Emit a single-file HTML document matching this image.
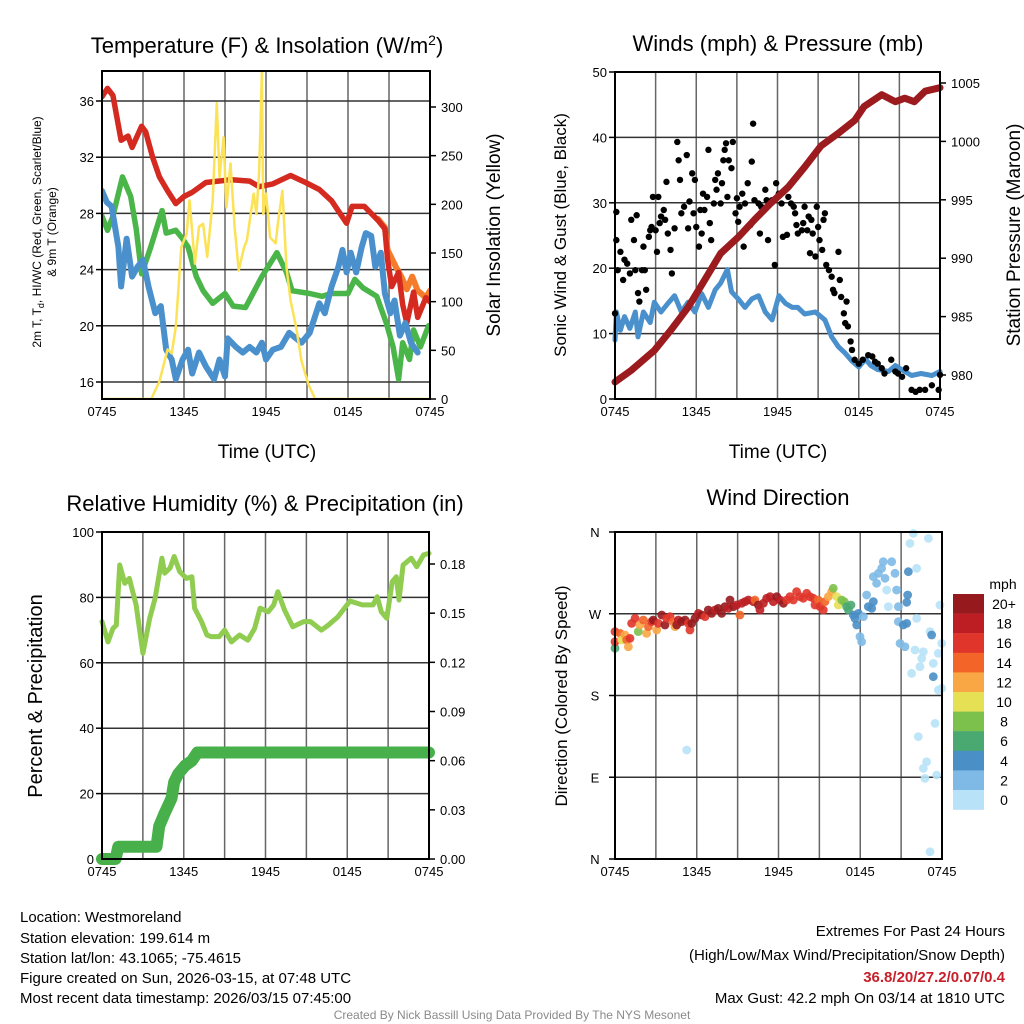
<!DOCTYPE html>
<html><head><meta charset="utf-8"><style>
html,body{margin:0;padding:0;background:#fff}
svg{display:block;font-family:"Liberation Sans",sans-serif}
</style></head><body>
<svg id="fig" width="1024" height="1024" viewBox="0 0 1024 1024">
<defs>
<clipPath id="clip1"><rect x="102" y="71" width="328" height="328"/></clipPath>
<clipPath id="clip2"><rect x="615" y="72" width="325" height="327"/></clipPath>
</defs>
<g id="p1"></g>
<g id="p2"></g>
<g id="p3"></g>
<g id="p4"></g>
<g id="txt">
<text x="267" y="53" font-size="22" text-anchor="middle">Temperature (F) &amp; Insolation (W/m<tspan dy="-8" font-size="14">2</tspan><tspan dy="8">)</tspan></text>
<text x="778" y="51" font-size="22" text-anchor="middle">Winds (mph) &amp; Pressure (mb)</text>
<text x="265" y="511" font-size="22" text-anchor="middle">Relative Humidity (%) &amp; Precipitation (in)</text>
<text x="778" y="505" font-size="22" text-anchor="middle">Wind Direction</text>
<text transform="translate(41,232) rotate(-90)" font-size="12" text-anchor="middle">2m T, T<tspan dy="3" font-size="9">d</tspan><tspan dy="-3">, HI/WC (Red, Green, Scarlet/Blue)</tspan></text>
<text transform="translate(56,232) rotate(-90)" font-size="12" text-anchor="middle">&amp; 9m T (Orange)</text>
<text transform="translate(500,235) rotate(-90)" font-size="19" text-anchor="middle">Solar Insolation (Yellow)</text>
<text transform="translate(566,235) rotate(-90)" font-size="17" text-anchor="middle">Sonic Wind &amp; Gust (Blue, Black)</text>
<text transform="translate(1020,235) rotate(-90)" font-size="19" text-anchor="middle">Station Pressure (Maroon)</text>
<text transform="translate(42,696) rotate(-90)" font-size="20" text-anchor="middle">Percent &amp; Precipitation</text>
<text transform="translate(567,696) rotate(-90)" font-size="17" text-anchor="middle">Direction (Colored By Speed)</text>
<text x="267" y="458" font-size="19" text-anchor="middle">Time (UTC)</text>
<text x="778" y="458" font-size="19" text-anchor="middle">Time (UTC)</text>
<g font-size="15">
<text x="20" y="922">Location: Westmoreland</text>
<text x="20" y="943">Station elevation: 199.614 m</text>
<text x="20" y="963">Station lat/lon: 43.1065; -75.4615</text>
<text x="20" y="983">Figure created on Sun, 2026-03-15, at 07:48 UTC</text>
<text x="20" y="1003">Most recent data timestamp: 2026/03/15 07:45:00</text>
</g>
<g font-size="15" text-anchor="end">
<text x="1005" y="936">Extremes For Past 24 Hours</text>
<text x="1005" y="960">(High/Low/Max Wind/Precipitation/Snow Depth)</text>
<text x="1005" y="982" fill="#c8202a" font-weight="bold">36.8/20/27.2/0.07/0.4</text>
<text x="1005" y="1003">Max Gust: 42.2 mph On 03/14 at 1810 UTC</text>
</g>
<text x="512" y="1019" font-size="12" fill="#8a8a8a" text-anchor="middle">Created By Nick Bassill Using Data Provided By The NYS Mesonet</text>
</g>
</svg>
<script>
// ---------- data ----------
const timeTickLabels = ["0745","1345","1945","0145","0745"];
const tempTickLabels = ["16","20","24","28","32","36"];
const solarTickLabels = ["0","50","100","150","200","250","300"];
const windTickLabels = ["0","10","20","30","40","50"];
const presTickLabels = ["980","985","990","995","1000","1005"];
const rhTickLabels = ["0","20","40","60","80","100"];
const precipTickLabels = ["0.00","0.03","0.06","0.09","0.12","0.15","0.18"];
const dirTickLabels = ["N","E","S","W","N"];
const speedLegendLabels = ["20+","18","16","14","12","10","8","6","4","2","0"];

const redT = [0,0.4,0.8,1.4,1.9,2.2,2.9,3.2,3.7,4.2,4.8,5.4,6.0,6.6,7.6,8.5,9.5,10.8,11.5,12.5,13.8,14.9,15.9,16.8,17.9,18.3,19.2,20.2,20.7,20.9,21.2,21.7,22.0,22.3,22.8,23.1,23.7,24];
const redV = [36.3,36.9,36.4,33.2,33.5,32.7,34.2,33.8,32.0,30.6,29.6,28.7,29.2,29.5,30.2,30.3,30.4,30.3,29.9,30.1,30.7,30.2,29.7,28.9,27.3,28.5,28.5,27.5,26.9,24.7,22.8,23.8,21.5,20.2,22.4,20.6,22.0,21.7];
const orangeT = [20.2,20.7,20.9,21.2,21.5,21.9,22.3,22.7,23.1,23.7,24];
const orangeV = [27.6,27.0,25.4,24.8,24.2,23.5,22.6,23.5,22.5,22.0,22.5];
const greenT = [0,0.4,0.8,1.5,2.1,2.5,2.9,3.5,4.4,4.7,5.4,5.9,6.3,6.9,7.4,8.1,9.0,9.6,10.5,11.7,12.8,13.5,13.9,15.2,16.1,16.8,18.0,18.5,19.1,20.1,20.8,21.3,21.7,22.0,22.5,22.8,23.3,23.9];
const greenV = [27.8,26.8,27.8,30.6,29.2,26.9,23.7,25.4,28.2,26.6,26.8,26.2,25.6,23.5,22.5,21.6,22.3,21.4,21.3,23.5,25.2,23.8,22.5,22.3,22.1,22.3,22.3,23.3,22.7,22.1,20.2,18.5,16.2,18.8,17.6,19.7,18.5,20.0];
const blueT = [0,0.35,0.7,1.2,1.4,1.8,2.2,2.6,3.0,3.4,3.9,4.3,4.7,5.1,5.4,5.9,6.3,6.6,7.1,7.6,8.2,8.6,9.0,9.2,9.8,10.3,10.8,11.3,11.7,12.0,12.5,13.1,13.7,14.2,14.6,15.2,15.9,16.3,16.8,17.3,17.6,17.9,18.2,18.6,19.0,19.3,19.7,20.0,20.4,20.7,21.1,21.4,21.8,22.2,22.6,23.1];
const blueV = [29.6,28.8,28.5,25.6,22.8,26.2,23.5,24.2,24.7,22.8,20.9,21.4,18.3,17.6,16.2,17.6,18.3,16.6,18.1,17.1,16.2,17.6,16.4,19.1,18.5,18.1,18.5,18.1,18.8,17.6,18.3,18.5,19.5,19.1,18.8,19.5,21.6,20.9,22.8,24.2,25.4,23.8,25.2,23.8,25.6,26.6,26.4,24.2,25.2,22.3,20.9,21.8,19.3,20.2,18.8,18.1];
const solarT = [0,3.6,4.2,4.8,5.1,5.4,5.8,6.2,6.4,6.8,7.1,7.4,7.7,8.1,8.4,8.6,8.9,9.1,9.4,9.7,10.0,10.4,10.6,11.1,11.3,11.5,11.7,11.8,12.0,12.3,12.7,12.9,13.2,13.5,13.8,14.2,14.6,15.1,15.6,24];
const solarV = [0,0,18,51,47,74,156,170,204,139,177,180,146,204,304,228,269,197,242,177,132,156,163,211,190,235,336,190,211,166,160,184,214,135,101,74,39,15,0,0];

const presT = [0,1.2,2.9,4.1,5.4,6.6,7.8,9.1,10.3,11.5,12.8,14.0,15.2,16.5,17.7,18.4,19.7,20.7,21.4,22.1,22.9,24];
const presV = [979.4,980.4,982.1,983.8,985.8,988.1,990.4,991.8,993.3,994.7,996.1,997.8,999.6,1000.7,1001.8,1003.0,1004.0,1003.4,1003.7,1003.4,1004.3,1004.6];
const windT = [0,0.1,0.4,0.7,1.1,1.5,1.7,2.1,2.6,2.9,3.4,3.9,4.4,4.9,5.4,5.9,6.4,6.9,7.4,7.8,8.3,8.6,9.1,9.6,10.1,10.6,11.1,11.6,12.1,12.6,13.1,13.5,14.0,14.8,15.5,16.0,16.5,17.0,17.5,18.0,18.5,18.9,19.4,20.2,20.7,21.4,21.9,22.6,23.4,24];
const windV = [9.0,13.3,10.5,12.6,10.8,13.3,9.5,13.3,11.7,14.8,13.3,14.6,15.8,13.3,14.8,13.3,16.1,14.0,16.7,17.7,19.8,16.4,15.3,14.0,15.3,15.8,13.3,12.1,15.8,14.6,14.0,14.0,13.0,13.3,12.1,9.5,8.0,7.0,5.8,4.9,6.1,5.1,4.5,4.2,5.1,4.2,3.6,3.9,3.6,4.2];
const gustT = [0,0.1,0.1,0.4,0.2,0.6,0.7,0.9,1.1,1.2,1.4,1.5,1.6,1.7,1.8,2.0,2.1,2.2,2.3,2.5,2.6,2.7,2.8,3.0,3.1,3.2,3.3,3.4,3.6,3.7,3.8,3.9,4.1,4.2,4.4,4.6,4.7,4.8,4.9,5.1,5.3,5.4,5.5,5.7,5.8,5.9,6.0,6.2,6.3,6.4,6.5,6.6,6.8,6.9,7.0,7.1,7.3,7.4,7.5,7.6,7.8,7.9,8.0,8.1,8.2,8.3,8.4,8.6,8.7,8.9,9.0,9.1,9.2,9.4,9.5,9.6,9.8,10.0,10.1,10.2,10.3,10.6,10.7,10.8,11.1,11.2,11.3,11.6,11.8,11.9,12.1,12.3,12.4,12.7,12.8,13.0,13.2,13.3,13.4,13.5,13.8,13.9,14.0,14.2,14.3,14.4,14.5,14.6,14.8,14.9,15.0,15.1,15.3,15.4,15.5,15.6,15.8,16.0,16.1,16.2,16.5,16.6,16.7,16.9,17.0,17.1,17.2,17.4,17.5,17.7,18.0,18.3,18.7,19.0,19.2,19.4,19.7,19.9,20.4,20.7,20.9,21.2,21.5,21.9,22.2,22.5,22.9,23.4,23.9,24.0];
const gustV = [13.1,24.3,28.6,22.5,19.7,18.2,21.3,20.7,19.2,27.4,24.3,19.7,28.1,16.2,14.9,19.7,23.3,19.7,16.7,24.8,25.8,26.3,30.9,25.8,22.5,30.9,26.9,27.9,28.9,27.4,33.2,25.3,22.8,19.2,26.1,39.3,36.5,33.5,28.4,29.4,37.3,26.1,30.2,34.5,28.4,33.5,26.3,23.3,28.9,25.3,31.4,28.9,30.9,38.1,26.9,24.3,29.9,33.5,32.0,34.5,29.9,33.0,36.5,38.1,39.1,30.9,36.5,35.3,39.3,28.4,30.7,27.1,29.4,31.4,23.3,29.9,33.0,26.6,36.3,42.1,30.4,29.9,25.3,29.4,32.0,30.4,24.3,30.4,20.5,33.0,31.4,29.9,24.8,25.1,30.9,29.9,29.4,28.4,26.6,25.3,25.8,26.9,29.4,25.8,27.9,22.3,27.4,25.3,21.8,29.4,26.3,24.3,22.8,27.4,28.4,20.5,19.7,18.7,16.7,16.2,22.5,18.2,15.6,13.1,11.6,14.9,11.1,8.8,7.5,6.0,5.4,6.0,6.7,6.5,5.7,5.4,4.7,3.9,6.0,4.2,3.9,3.4,4.7,1.4,1.1,1.4,1.4,2.1,1.4,3.7];

const rhT = [0,0.44,0.8,1.05,1.3,1.67,2.0,2.5,3.0,3.5,3.9,4.4,4.6,5.0,5.3,5.7,6.2,6.6,6.8,7.3,7.7,8.0,8.6,9.0,9.5,10.1,10.7,11.2,11.6,12.2,12.6,12.9,13.4,14.0,14.8,15.3,16.1,16.6,17.3,18.2,19.1,19.9,20.2,20.5,20.9,21.3,21.6,21.8,22.1,22.7,23.1,23.6,24.0];
const rhV = [72.6,66.4,70.5,71.5,89.9,84.3,85.8,77.7,62.9,73.6,79.7,92.0,87.4,89.0,92.5,87.9,85.8,86.3,76.7,72.6,68.5,68.0,68.0,70.0,66.4,68.5,66.9,70.5,76.7,75.6,77.7,81.7,76.1,71.0,72.6,72.6,70.0,71.5,74.0,78.9,77.7,77.7,80.2,75.6,73.6,84.8,86.3,79.2,89.9,92.0,89.4,93.0,93.5];
const precipT = [0,0.5,1.0,1.2,2.0,3.0,4.0,4.2,4.6,5.1,5.3,5.6,6.1,6.6,7.0,10,15,20,24];
const precipV = [0,0,0,0.0075,0.0075,0.0075,0.0075,0.02,0.028,0.037,0.047,0.052,0.057,0.06,0.065,0.065,0.065,0.065,0.065];

const dirT = [0,0,0,0.37,0.49,0.73,0.86,0.98,1.1,1.22,1.47,1.71,1.83,2.08,2.32,2.45,2.69,2.81,3.06,3.18,3.43,3.67,3.79,4.04,4.28,4.4,4.53,4.65,4.89,5.14,5.38,5.5,5.63,5.87,6.12,6.36,6.61,6.85,7.1,7.34,7.58,7.83,8.07,8.32,8.44,8.69,8.93,9.17,9.3,9.54,9.79,10.15,10.27,10.52,10.64,10.89,11.13,11.38,11.62,11.87,12.11,12.36,12.6,12.84,13.09,13.33,13.58,13.82,14.07,14.31,14.56,14.68,14.92,15.05,15.29,15.41,15.66,15.9,16.02,16.27,16.39,16.64,16.83,17.0,17.13,17.32,17.49,17.61,17.74,17.86,17.98,18.1,18.23,18.47,18.59,18.84,18.96,18.96,19.2,19.33,19.57,19.69,19.82,19.94,20.06,20.31,20.55,20.67,20.8,20.8,20.92,21.16,21.28,21.41,21.48,21.41,21.53,21.65,21.77,21.9,22.02,22.14,22.14,22.26,22.38,22.51,22.63,22.63,22.75,22.87,23.0,23.12,23.12,23.24,23.36,23.36,23.49,23.61,23.73,23.73,23.85,23.98,23.98,5.26];
const dirV = [232,239.2,250.3,248.4,241.1,246.6,241.1,233.7,242.9,259.4,264.9,250.3,257.6,263.1,248.4,255.8,261.3,263.1,252.1,259.4,268.6,257.6,264.9,266.8,261.3,255.8,257.6,263.1,261.3,263.1,259.4,252.1,259.4,264.9,270.4,268.6,266.8,274.1,270.4,274.1,275.9,270.4,277.8,275.9,285.1,277.8,279.6,268.6,281.5,283.3,285.1,283.3,285.1,279.6,274.1,281.5,287,288.8,283.3,288.8,285.1,281.5,285.1,288.8,285.1,294.3,288.8,287,292.5,288.8,287,279.6,285.1,277.8,274.1,283.3,288.8,294.3,298,288.8,279.6,285.1,283.3,277.8,274.1,279.6,268.6,264.9,257.6,270.4,244.8,239.2,266.8,290.6,277.8,275.9,283.3,310.8,303.5,314.5,320,327.3,309,296.1,277.8,327.3,314.5,296.1,277.8,261.3,237.4,257.6,233.7,259.4,290.6,282.6,316.3,347.5,204.4,358.5,230.1,320,264.9,134.7,211.7,220.9,228.2,99.8,88.8,107.1,353,250.3,8,246.6,215.4,200.7,149.3,92.4,226.4,186,279.6,237.4,187.9,120];
const dirS = [7,17,17,14,11,13,14,12,17,17,17,8,12,14,12,14,17,20,12,17,20,20,17,16,14,12,20,18,20,20,17,17,20,20,18,20,17,20,20,18,20,20,20,18,20,20,18,14,18,18,18,18,14,20,18,18,18,18,18,20,18,20,16,17,16,16,16,16,16,16,16,17,14,16,16,14,13,12,8,10,10,8,8,7,6,6,4,5,4,5,3,3,3,3,4,4,5,3,3,3,3,3,3,1,1,3,3,3,3,3,3,4,3,4,5,5,4,1,1,1,1,1,1,1,1,1,1,1,1,1,1,1,1,4,1,4,1,1,1,1,1,1,1,1,10];
const speedColors = ["#961a1d","#bd1e24","#e0352a","#f26428","#f9a644","#e6e055","#7cc14c","#4aa871","#4a8fc6","#7ebae5","#b8e2f8"];

// ---------- helpers ----------
const NS = "http://www.w3.org/2000/svg";
function mk(parent, tag, attrs){ const e=document.createElementNS(NS,tag); for(const k in attrs) e.setAttribute(k,attrs[k]); parent.appendChild(e); return e; }
function scale(d0,d1,r0,r1){ return v => r0 + (v-d0)/(d1-d0)*(r1-r0); }

function frame(g, L, T, R, B){
  const xs = scale(0,24,L,R);
  for(let h=3; h<24; h+=3){
    const ln = mk(g,"line",{x1:xs(h),x2:xs(h),y1:T,y2:B,stroke:"#666","stroke-width":1.5});
    
    
  }
  timeTickLabels.forEach((lab,i)=>{
    const t = mk(g,"text",{x:xs(i*6),y:B+17,"font-size":13,"text-anchor":"middle"});
    t.textContent = lab;
    
    
  });
  return xs;
}
function hgrid(g,L,R,ys,vals){
  vals.forEach(v=>{
    const ln = mk(g,"line",{x1:L,x2:R,y1:ys(v),y2:ys(v),stroke:"#333","stroke-width":1.5});
    
    
  });
}
function border(g,L,T,R,B){
  const r = mk(g,"rect",{x:L,y:T,width:R-L,height:B-T,fill:"none",stroke:"#000","stroke-width":2});
  
  
}
function yLabels(g,x,anchor,ys,labels,vals,ticksX,dir){
  labels.forEach((lab,i)=>{
    const t = mk(g,"text",{x:x,y:ys(vals[i])+5,"font-size":13,"text-anchor":anchor});
    t.textContent = lab;
    
    
    const tk = mk(g,"line",{x1:ticksX,x2:ticksX+dir*6,y1:ys(vals[i]),y2:ys(vals[i]),stroke:"#000","stroke-width":1.5});
    
    
  });
}
function path(g, xs, ys, T, V, color, w, name){
  let d=""; T.forEach((t,i)=>{ d += (i?"L":"M")+xs(t).toFixed(1)+","+ys(V[i]).toFixed(1); });
  const p = mk(g,"path",{d:d,fill:"none",stroke:color,"stroke-width":w,"stroke-linejoin":"round","stroke-linecap":"round"});
  
  
  return p;
}

// ---------- panel 1 ----------
(function(){
  const g=document.getElementById("p1"); const L=102,T=71,R=430,B=399;
  const xs = frame(g,L,T,R,B);
  const yt = scale(16,36,382,101);
  const ys = scale(0,300,399,107);
  hgrid(g,L,R,yt,[16,20,24,28,32,36]);
  yLabels(g,L-8,"end",yt,tempTickLabels,[16,20,24,28,32,36],L,-1);
  yLabels(g,R+11,"start",ys,solarTickLabels,[0,50,100,150,200,250,300],R,1);
  const cg = mk(g,"g",{"clip-path":"url(#clip1)"});
  
  
  path(cg,xs,yt,orangeT,orangeV,"#f47c2a",6,"orange-9m-temp-line");
  path(cg,xs,yt,redT,redV,"#d42a20",5.5,"red-temperature-line");
  path(cg,xs,yt,greenT,greenV,"#4ab548",5.5,"green-dewpoint-line");
  path(cg,xs,yt,blueT,blueV,"#4a90cc",6,"blue-windchill-line");
  path(cg,xs,ys,solarT,solarV,"#fbe256",2.5,"yellow-insolation-line");
  border(g,L,T,R,B);
})();

// ---------- panel 2 ----------
(function(){
  const g=document.getElementById("p2"); const L=615,T=72,R=940,B=399;
  const xs = frame(g,L,T,R,B);
  const yw = scale(0,50,399,72);
  const yp = scale(980,1005,375,83);
  hgrid(g,L,R,yw,[10,20,30,40]);
  yLabels(g,L-8,"end",yw,windTickLabels,[0,10,20,30,40,50],L,-1);
  yLabels(g,R+11,"start",yp,presTickLabels,[980,985,990,995,1000,1005],R,1);
  path(g,xs,yw,windT,windV,"#4a90cc",5,"sonic-wind-line");
  gustT.forEach((t,i)=>{
    const c = mk(g,"circle",{cx:xs(t),cy:yw(gustV[i]),r:3.2,fill:"#000"});
    
    
  });
  path(g,xs,yp,presT,presV,"#9b1b1e",7,"station-pressure-line");
  border(g,L,T,R,B);
})();

// ---------- panel 3 ----------
(function(){
  const g=document.getElementById("p3"); const L=102,T=532,R=429,B=859;
  const xs = frame(g,L,T,R,B);
  const yr = scale(0,100,859,532);
  const yq = scale(0,0.18,859,564);
  hgrid(g,L,R,yr,[20,40,60,80]);
  yLabels(g,L-8,"end",yr,rhTickLabels,[0,20,40,60,80,100],L,-1);
  yLabels(g,R+11,"start",yq,precipTickLabels,[0,0.03,0.06,0.09,0.12,0.15,0.18],R,1);
  path(g,xs,yr,rhT,rhV,"#8fcc50",5,"relative-humidity-line");
  path(g,xs,yq,precipT,precipV,"#48b04a",12,"precipitation-line");
  border(g,L,T,R,B);
})();

// ---------- panel 4 ----------
(function(){
  const g=document.getElementById("p4"); const L=615,T=532,R=942,B=859;
  const xs = frame(g,L,T,R,B);
  const yd = scale(0,360,859,532);
  hgrid(g,L,R,yd,[90,180,270]);
  yLabels(g,L-20,"middle",yd,dirTickLabels,[0,90,180,270,360],L,-1);
  function colorFor(s){ if(s>=20) return speedColors[0]; if(s>=18) return speedColors[1]; if(s>=16) return speedColors[2]; if(s>=14) return speedColors[3]; if(s>=12) return speedColors[4]; if(s>=10) return speedColors[5]; if(s>=8) return speedColors[6]; if(s>=6) return speedColors[7]; if(s>=4) return speedColors[8]; if(s>=2) return speedColors[9]; return speedColors[10]; }
  dirT.forEach((t,i)=>{
    const c = mk(g,"circle",{cx:xs(t),cy:yd(dirV[i]),r:4.4,fill:colorFor(dirS[i]),"fill-opacity":0.9});
    
    
  });
  border(g,L,T,R,B);
  const lt = mk(g,"text",{x:1003,y:589,"font-size":14,"text-anchor":"middle"});
  lt.textContent="mph";
  
  
  speedLegendLabels.forEach((lab,i)=>{
    const r = mk(g,"rect",{x:953,y:594+i*19.6,width:31,height:19.8,fill:speedColors[i]});
    
    
    const t = mk(g,"text",{x:1004,y:594+i*19.6+15,"font-size":14,"text-anchor":"middle"});
    t.textContent = lab;
    
    
  });
})();
</script>
</body></html>
